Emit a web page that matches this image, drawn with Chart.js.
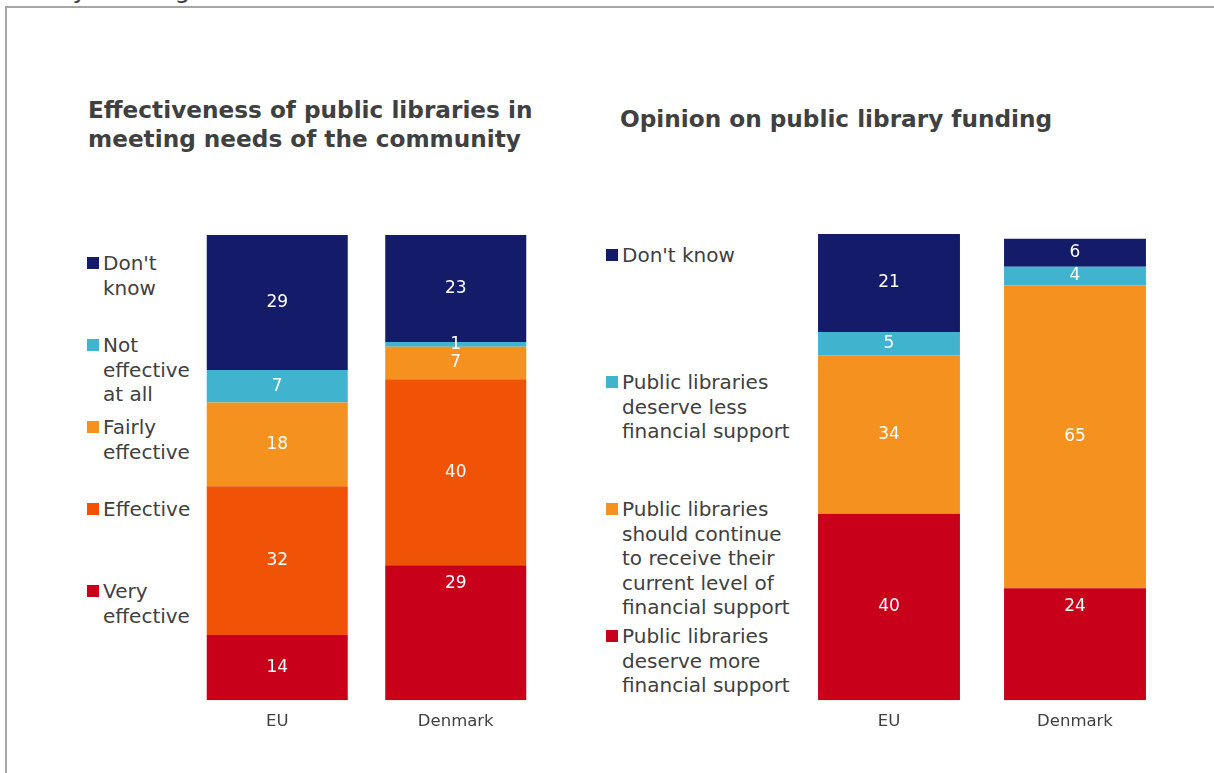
<!DOCTYPE html>
<html>
<head>
<meta charset="utf-8">
<title>Library funding</title>
<script src="https://cdn.jsdelivr.net/npm/chart.js@4/dist/chart.umd.min.js"></script>
<style>
  html, body { margin: 0; padding: 0; background: #fff; overflow: hidden; }
  body { width: 1214px; height: 773px; position: relative; font-family: "DejaVu Sans", Verdana, sans-serif; color: #404040; }
  #frame { position: absolute; left: 5px; top: 6px; width: 1400px; height: 1000px; border-top: 2px solid #a6a6a6; border-left: 2px solid #a6a6a6; }
  #pageTitle { position: absolute; left: 0; top: -23px; font-size: 25px; line-height: 25px; white-space: nowrap; }
  .title { position: absolute; font-weight: bold; font-size: 23.2px; line-height: 29px; white-space: nowrap; }
  .legend { position: absolute; font-size: 20px; line-height: 24.5px; }
  .legend .item { position: absolute; left: 0; white-space: nowrap; }
  .legend .box { position: absolute; left: 0; top: 6px; width: 12px; height: 12px; }
  .legend .text { position: absolute; top: 0; left: 16px; }
  canvas { position: absolute; }
</style>
</head>
<body>
<div id="pageTitle">Library funding</div>
<div id="frame"></div>

<div class="title" style="left:88px; top:95px;">Effectiveness of public libraries in<br>meeting needs of the community</div>
<div class="title" style="left:620px; top:104px;">Opinion on public library funding</div>

<div id="effLegend" class="legend" style="left:87px; top:251px;"></div>
<div id="fundLegend" class="legend" style="left:606px; top:243px;"></div>

<canvas id="effChart" width="357" height="519" style="left:188px; top:225px;"></canvas>
<canvas id="fundChart" width="372" height="520" style="left:796px; top:224px;"></canvas>

<script>
// categories
const categories = ['EU', 'Denmark'];

// effectiveness of public libraries (%), bottom segment first
const effVery = [14, 29];
const effEffective = [32, 40];
const effFairly = [18, 7];
const effNotAtAll = [7, 1];
const effDontKnow = [29, 23];
const effNames = [['Very', 'effective'], ['Effective'], ['Fairly', 'effective'], ['Not', 'effective', 'at all'], ["Don't", 'know']];

// opinion on funding (%), bottom segment first
const fundMore = [40, 24];
const fundSame = [34, 65];
const fundLess = [5, 4];
const fundDontKnow = [21, 6];
const fundNames = [
    ['Public libraries', 'deserve more', 'financial support'],
    ['Public libraries', 'should continue', 'to receive their', 'current level of', 'financial support'],
    ['Public libraries', 'deserve less', 'financial support'],
    ["Don't know"]
];

const NAVY = '#141b69';
const SKY = '#40b3cf';
const ORANGE = '#f5921f';
const DEEP_ORANGE = '#f05206';
const RED = '#c8001a';

const FONT = '"DejaVu Sans", Verdana, sans-serif';

// white value labels; 'top' puts the number just under the segment's upper edge
const valueLabels = {
    id: 'valueLabels',
    afterDatasetsDraw(chart) {
        const ctx = chart.ctx;
        ctx.save();
        ctx.fillStyle = '#ffffff';
        ctx.font = '17px ' + FONT;
        ctx.textAlign = 'center';
        ctx.textBaseline = 'middle';
        chart.data.datasets.forEach((ds, i) => {
            chart.getDatasetMeta(i).data.forEach((bar, j) => {
                const anchor = (ds.labelAnchor || [])[j];
                const y = anchor === 'top' ? bar.y + 18 : (bar.y + bar.base) / 2;
                ctx.fillText(String(ds.data[j]), bar.x, y);
            });
        });
        ctx.restore();
    }
};

function stackedChart(canvasId, series, colors, catPct) {
    return new Chart(document.getElementById(canvasId), {
        type: 'bar',
        data: {
            labels: categories,
            datasets: series.map((s, i) => ({
                label: s.name.join(' '),
                data: s.values,
                labelAnchor: s.anchor,
                backgroundColor: colors[i],
                borderWidth: 0,
                barPercentage: 1,
                categoryPercentage: catPct
            }))
        },
        options: {
            responsive: false,
            animation: false,
            devicePixelRatio: 1,
            layout: { padding: { top: 10, left: 0, right: 0, bottom: 0 } },
            plugins: { legend: { display: false }, tooltip: { enabled: false } },
            scales: {
                x: {
                    stacked: true,
                    grid: { display: false, drawTicks: false },
                    border: { display: false },
                    ticks: { color: '#404040', padding: 12, font: { family: FONT, size: 16.5 } }
                },
                y: { stacked: true, display: false, min: 0, max: 100 }
            }
        },
        plugins: [valueLabels]
    });
}

// HTML legend, top item = top segment
function buildLegend(elId, names, colors, step) {
    const el = document.getElementById(elId);
    const order = names.map((n, i) => i).reverse();
    order.forEach((idx, k) => {
        const item = document.createElement('div');
        item.className = 'item';
        item.style.top = (k * step) + 'px';
        const box = document.createElement('span');
        box.className = 'box';
        box.style.background = colors[idx];
        const txt = document.createElement('span');
        txt.className = 'text';
        txt.innerHTML = names[idx].join('<br>');
        item.appendChild(box);
        item.appendChild(txt);
        el.appendChild(item);
    });
}

const effColors = [RED, DEEP_ORANGE, ORANGE, SKY, NAVY];
const fundColors = [RED, ORANGE, SKY, NAVY];

stackedChart('effChart', [
    { name: effNames[0], values: effVery, anchor: ['center', 'top'] },
    { name: effNames[1], values: effEffective },
    { name: effNames[2], values: effFairly },
    { name: effNames[3], values: effNotAtAll },
    { name: effNames[4], values: effDontKnow }
], effColors, 0.79);

stackedChart('fundChart', [
    { name: fundNames[0], values: fundMore, anchor: ['center', 'top'] },
    { name: fundNames[1], values: fundSame },
    { name: fundNames[2], values: fundLess },
    { name: fundNames[3], values: fundDontKnow }
], fundColors, 0.763);

buildLegend('effLegend', effNames, effColors, 82);
buildLegend('fundLegend', fundNames, fundColors, 127);
</script>
</body>
</html>
